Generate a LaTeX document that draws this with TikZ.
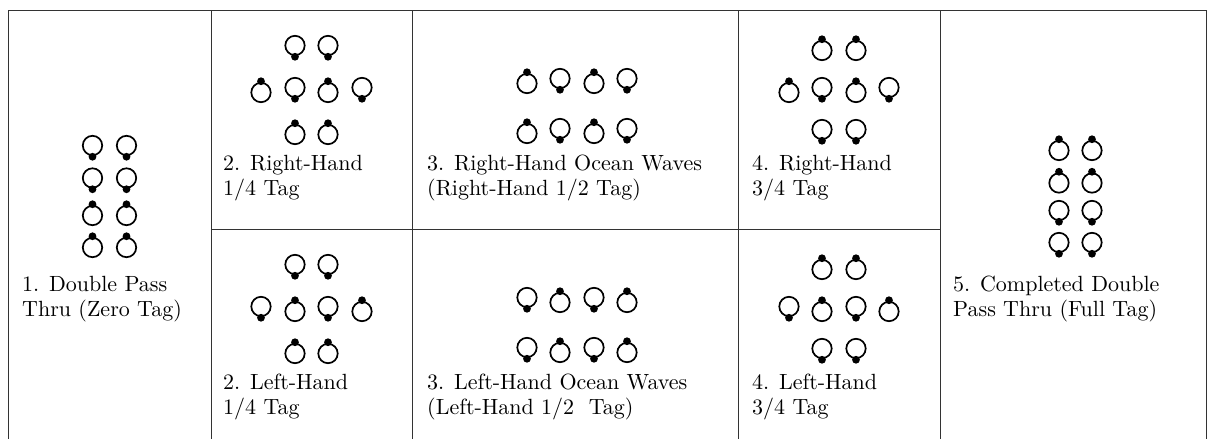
\documentclass[tikz,border=0pt]{standalone}
\usepackage{fontspec}
\setmainfont{lmroman10-regular.otf}
\newcommand\twoline[2]{\begin{tabular}[t]{@{}l@{}}#1\\#2\end{tabular}}
\newcommand\dN[3]{\node[dancer] (#1) at (#2,#3+2.5) {}; \fill[nose] ([yshift=0.7pt]#1.north) circle (3.9pt);}
\newcommand\dS[3]{\node[dancer] (#1) at (#2,#3-2.5) {}; \fill[nose] ([yshift=-0.7pt]#1.south) circle (3.9pt);}
\begin{document}
\begin{tikzpicture}[x=1pt,y=-1pt,
  frame/.style={line width=1pt, draw=black!80},
  dancer/.style={circle, draw=black, line width=1.7pt, minimum size=19.4pt, inner sep=0pt},
  nose/.style={fill=black},
  lbl/.style={anchor=base west, inner sep=0pt, font=\fontsize{22}{25}\selectfont}]
\useasboundingbox (0,0) rectangle (1208,439);
% frame
\draw[frame] (8,450) -- (8,10) -- (1206,10) -- (1206,450);
\draw[frame] (211,10) -- (211,450);
\draw[frame] (412,10) -- (412,450);
\draw[frame] (738,10) -- (738,450);
\draw[frame] (940,10) -- (940,450);
\draw[frame] (211,229) -- (940,229);
% panel 1
\dS{a1}{92.5}{148} \dS{a2}{126.5}{148}
\dS{a3}{92.5}{180.5} \dS{a4}{126.5}{180.5}
\dN{a5}{92.5}{213} \dN{a6}{126.5}{213}
\dN{a7}{92.5}{245} \dN{a8}{126.5}{245}
\node[lbl] (l1) at (22,291) {\twoline{1. Double Pass}{Thru (Zero Tag)}};
% panel 2 top
\dS{b1}{295}{48} \dS{b2}{328}{48}
\dN{b3}{261}{90} \dS{b4}{295}{90} \dN{b5}{328}{90} \dS{b6}{362}{90}
\dN{b7}{295}{132} \dN{b8}{328}{132}
\node[lbl] (l2t) at (223,170) {\twoline{2. Right-Hand}{1/4 Tag}};
% panel 2 bottom
\dS{c1}{295}{267} \dS{c2}{328}{267}
\dS{c3}{261}{309} \dN{c4}{295}{309} \dS{c5}{328}{309} \dN{c6}{362}{309}
\dN{c7}{295}{351} \dN{c8}{328}{351}
\node[lbl] (l2b) at (223,389) {\twoline{2. Left-Hand}{1/4 Tag}};
% panel 3 top
\dN{d1}{527}{81} \dS{d2}{560}{81} \dN{d3}{594}{81} \dS{d4}{627}{81}
\dN{d5}{527}{131} \dS{d6}{560}{131} \dN{d7}{594}{131} \dS{d8}{627}{131}
\node[lbl] (l3t) at (427,170) {\twoline{3. Right-Hand Ocean Waves}{(Right-Hand 1/2 Tag)}};
% panel 3 bottom
\dS{e1}{527}{300} \dN{e2}{560}{300} \dS{e3}{594}{300} \dN{e4}{627}{300}
\dS{e5}{527}{350} \dN{e6}{560}{350} \dS{e7}{594}{350} \dN{e8}{627}{350}
\node[lbl] (l3b) at (427,389) {\twoline{3. Left-Hand Ocean Waves}{(Left-Hand 1/2\ \ Tag)}};
% panel 4 top
\dN{f1}{822}{48} \dN{f2}{856}{48}
\dN{f3}{789}{90} \dS{f4}{822}{90} \dN{f5}{856}{90} \dS{f6}{889}{90}
\dS{f7}{822}{132} \dS{f8}{856}{132}
\node[lbl] (l4t) at (752,170) {\twoline{4. Right-Hand}{3/4 Tag}};
% panel 4 bottom
\dN{g1}{822}{267} \dN{g2}{856}{267}
\dS{g3}{789}{309} \dN{g4}{822}{309} \dS{g5}{856}{309} \dN{g6}{889}{309}
\dS{g7}{822}{351} \dS{g8}{856}{351}
\node[lbl] (l4b) at (752,389) {\twoline{4. Left-Hand}{3/4 Tag}};
% panel 5
\dN{h1}{1059}{148} \dN{h2}{1092}{148}
\dN{h3}{1059}{180.5} \dN{h4}{1092}{180.5}
\dS{h5}{1059}{213} \dS{h6}{1092}{213}
\dS{h7}{1059}{245} \dS{h8}{1092}{245}
\node[lbl] (l5) at (953,291) {\twoline{5. Completed Double}{Pass Thru (Full Tag)}};
\end{tikzpicture}
\end{document}
